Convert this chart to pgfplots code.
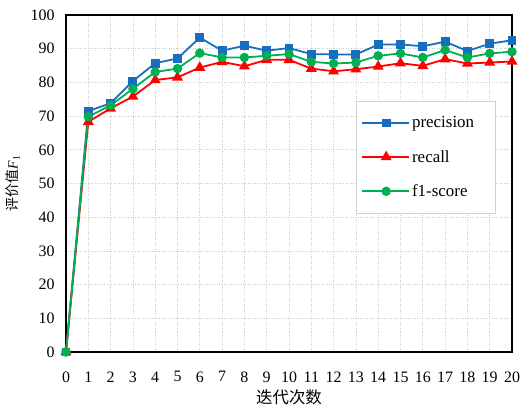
\documentclass[border=0pt]{standalone}
\usepackage{fontspec}
\setmainfont{Liberation Serif}
\newfontfamily\cjk{Noto Sans CJK SC}
\usepackage{pgfplots}
\pgfplotsset{compat=1.18}
\definecolor{cblue}{RGB}{23,110,190}
\definecolor{cred}{RGB}{255,0,0}
\definecolor{cgreen}{RGB}{0,176,80}
\begin{document}
\begin{tikzpicture}[x=1bp,y=1bp]
\begin{axis}[
  name=ax,
  scale only axis,
  width=446bp, height=337bp,
  xmin=0, xmax=20, ymin=0, ymax=100,
  xtick={0,1,...,20}, ytick={0,10,...,100},
  major tick length=0pt,
  grid=major,
  grid style={dotted, gray!40, line width=0.7pt},
  axis line style={black, line width=1.2pt},
  /pgf/number format/assume math mode=true,
  tick label style={font=\fontsize{16}{18}\selectfont},
  xticklabel style={yshift=-16bp},
  yticklabel style={xshift=-8bp},
  xlabel={\cjk 迭代次数},
  ylabel={{\cjk 评价值}\textit{F}\textsubscript{1}},
  xlabel style={font=\fontsize{16.5}{18}\selectfont, yshift=-1bp},
  ylabel style={font=\fontsize{14}{16}\selectfont, yshift=4bp},
  clip=false,
  legend style={at={(0.650,0.744)}, anchor=north west, draw=gray!35, line width=0.8pt,
    font=\fontsize{17}{19}\selectfont, row sep=17bp, inner xsep=5bp, inner ysep=13bp,
    nodes={inner xsep=2bp}},
  legend cell align=left,
  legend image code/.code={\draw[#1, line width=1.8pt] (0bp,0bp) -- (24bp,0bp) plot coordinates {(24bp,0bp)}; \draw[#1, line width=1.8pt] (24bp,0bp) -- (47bp,0bp);},
]
\addplot[cblue, line width=1.8pt, mark=square*, mark size=3.6pt, mark options={solid}] coordinates {
(0,0) (1,71.5) (2,73.8) (3,80.4) (4,85.7) (5,87.1) (6,93.3) (7,89.4) (8,90.9) (9,89.4) (10,90.2)
(11,88.4) (12,88.3) (13,88.3) (14,91.2) (15,91.3) (16,90.7) (17,92.1) (18,89.3) (19,91.5) (20,92.5)};
\addlegendentry{precision\hspace*{14bp}}
\addplot[cred, line width=1.8pt, mark=triangle*, mark size=4.6pt] coordinates {
(0,0) (1,68.3) (2,72.3) (3,75.8) (4,80.7) (5,81.5) (6,84.4) (7,86.1) (8,84.8) (9,86.7) (10,86.7)
(11,84.1) (12,83.3) (13,83.9) (14,84.7) (15,85.7) (16,84.9) (17,86.9) (18,85.6) (19,85.9) (20,86.2)};
\addlegendentry{recall}
\addplot[cgreen, line width=1.8pt, mark=*, mark size=3.8pt] coordinates {
(0,0) (1,69.8) (2,73.2) (3,78.1) (4,83.1) (5,84.1) (6,88.7) (7,87.4) (8,87.4) (9,87.9) (10,88.4)
(11,86.1) (12,85.6) (13,85.9) (14,87.9) (15,88.6) (16,87.4) (17,89.6) (18,87.4) (19,88.6) (20,89.1)};
\addlegendentry{f1-score}
\end{axis}
\pgfresetboundingbox
\path ([shift={(-66bp,-54bp)}]ax.south west) rectangle ([shift={(10bp,15bp)}]ax.north east);
\end{tikzpicture}
\end{document}
